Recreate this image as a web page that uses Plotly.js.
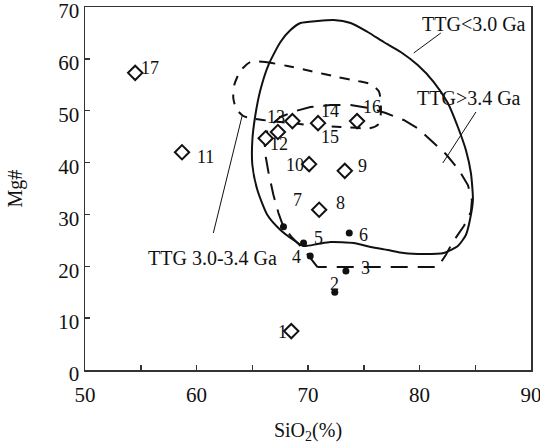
<!DOCTYPE html>
<html><head><meta charset="utf-8">
<script src="https://cdn.plot.ly/plotly-3.0.1.min.js"></script>
<style>html,body{margin:0;padding:0;background:#fff}#chart{width:540px;height:444px}</style>
</head><body><div id="chart"></div>
<script>
// ---- sample points ----
const diamondNo    = [1, 8, 9, 10, 11, 12, 13, 14, 15, 16, 17];
const diamondSiO2  = [68.5, 71.0, 73.3, 70.1, 58.7, 66.2, 67.3, 70.9, 68.6, 74.4, 54.5];
const diamondMg    = [7.5, 30.9, 38.4, 39.7, 42.0, 44.7, 45.9, 47.6, 48.0, 48.0, 57.3];

const dotNo   = [2, 3, 4, 5, 6, 7];
const dotSiO2 = [72.4, 73.4, 70.2, 69.6, 73.7, 67.8];
const dotMg   = [15.0, 19.1, 22.0, 24.5, 26.4, 27.6];

// ---- TTG field outlines ----
const ttgYoungSiO2 = [69.60,68.70,67.53,66.36,65.46,65.01,65.01,65.28,65.73,66.45,67.53,68.43,69.33,70.85,72.29,73.82,75.35,76.79,78.31,79.84,81.28,82.54,83.44,84.16,84.61,84.79,84.52,84.16,83.44,82.18,80.38,78.58,77.15,75.62,74.09,72.02,70.85,69.60];
const ttgYoungMg   = [23.91,25.07,27.00,29.89,34.71,39.53,44.35,49.17,53.99,58.81,63.25,65.56,66.91,67.30,67.49,66.91,65.18,63.25,61.32,58.81,55.53,51.48,46.86,42.42,37.99,32.78,28.92,26.03,23.91,22.56,22.37,22.56,23.14,23.72,24.49,24.68,24.30,23.91];

const ttgMidSiO2 = [64.83,66.18,68.16,70.22,72.65,74.45,75.62,76.34,76.52,76.52,76.34,75.62,72.92,70.22,67.53,65.28,64.20,63.57,63.30,63.39,63.93,64.83];
const ttgMidMg   = [59.39,59.39,58.62,57.66,56.50,55.73,55.15,53.80,52.06,49.17,47.44,46.66,46.86,47.24,47.82,48.40,48.98,50.33,52.45,54.96,57.66,59.39];

const ttgOldSiO2 = [70.85,70.22,69.51,68.61,67.80,67.35,66.90,66.45,66.18,66.09,66.45,67.53,68.88,70.22,72.02,73.82,75.44,76.97,78.58,79.93,81.01,82.36,83.53,84.34,84.70,84.61,83.98,82.99,82.36,81.64,70.85];
const ttgOldMg   = [19.86,21.60,23.53,25.45,27.57,30.27,33.74,38.18,41.46,44.35,46.86,48.79,49.94,50.71,51.10,51.10,50.52,49.56,48.21,46.47,44.35,41.65,38.57,35.67,32.78,30.47,27.77,24.68,22.18,19.86,19.86];

// ---- field labels and leader lines ----
const fieldNames  = ['TTG&lt;3.0 Ga', 'TTG&gt;3.4 Ga', 'TTG 3.0-3.4 Ga'];
const fieldLabelX = [84.88, 84.40, 61.45];
const fieldLabelY = [66.72, 52.40, 21.60];
const leaderX0 = [81.91, 85.06, 64.11];
const leaderY0 = [64.98, 49.75, 49.17];
const leaderX1 = [79.48, 82.09, 61.51];
const leaderY1 = [61.13, 39.92, 26.42];

// ---- label offsets (px: right, down) ----
const diamondLabelShift = {1:[-9,1],8:[21,-7],9:[18,-5],10:[-14,1],11:[23,5],12:[13,6],13:[-2,-15],14:[12,-12],15:[38,16],16:[15,-14],17:[15,-5]};
const dotLabelShift = {2:[0,-8],3:[20,-3],4:[-14,1],5:[15,-5],6:[14,2],7:[14,-27]};

const FONT = '"Liberation Serif","Times New Roman",serif';
const INK = '#111';

const traces = [
  {x: ttgYoungSiO2, y: ttgYoungMg, mode: 'lines', line: {color: INK, width: 2, shape: 'spline', smoothing: 0.6}, hoverinfo: 'skip', showlegend: false},
  {x: ttgMidSiO2, y: ttgMidMg, mode: 'lines', line: {color: INK, width: 2, dash: '10px,9px', shape: 'spline', smoothing: 0.6}, hoverinfo: 'skip', showlegend: false},
  {x: ttgOldSiO2, y: ttgOldMg, mode: 'lines', line: {color: INK, width: 2, dash: '17px,10px'}, hoverinfo: 'skip', showlegend: false},
  {x: diamondSiO2, y: diamondMg, mode: 'markers', marker: {symbol: 'diamond', size: 11, color: '#fff', line: {color: INK, width: 2}}, showlegend: false},
  {x: dotSiO2, y: dotMg, mode: 'markers', marker: {symbol: 'circle', size: 7, color: INK}, showlegend: false}
];

const annotations = [];
diamondNo.forEach((n, i) => {
  const s = diamondLabelShift[n] || [12, 0];
  annotations.push({x: diamondSiO2[i], y: diamondMg[i], text: String(n), showarrow: false,
    xshift: s[0], yshift: -s[1], font: {family: FONT, size: 18, color: INK}});
});
dotNo.forEach((n, i) => {
  const s = dotLabelShift[n] || [12, 0];
  annotations.push({x: dotSiO2[i], y: dotMg[i], text: String(n), showarrow: false,
    xshift: s[0], yshift: -s[1], font: {family: FONT, size: 18, color: INK}});
});
fieldNames.forEach((t, i) => {
  annotations.push({x: fieldLabelX[i], y: fieldLabelY[i], text: t, showarrow: false,
    font: {family: FONT, size: 20, color: INK}});
});

const shapes = leaderX0.map((x0, i) => ({type: 'line', xref: 'x', yref: 'y',
  x0: x0, y0: leaderY0[i], x1: leaderX1[i], y1: leaderY1[i], line: {color: INK, width: 1}}));

const layout = {
  width: 540, height: 444,
  margin: {l: 85, r: 9, t: 7, b: 74},
  paper_bgcolor: '#fff', plot_bgcolor: '#fff',
  font: {family: FONT, color: INK},
  xaxis: {range: [50, 90], tickvals: [50,60,70,80,90],
    ticks: 'inside', ticklen: 5, tickwidth: 1.5, tickcolor: '#333',
    minor: {tickvals: [55,65,75,85], ticks: 'inside', ticklen: 5, tickwidth: 1.5, tickcolor: '#333', showgrid: false},
    showline: true, linecolor: '#333', linewidth: 1.5, mirror: true,
    showgrid: false, zeroline: false, automargin: false, ticklabeloverflow: 'allow',
    ticklabelstandoff: 5,
    tickfont: {family: FONT, size: 21, color: INK},
    title: {text: 'SiO<sub>2</sub>(%)', font: {family: FONT, size: 20, color: INK}, standoff: 18}},
  yaxis: {range: [0, 70], tickvals: [0,10,20,30,40,50,60,70],
    ticks: 'inside', ticklen: 5, tickwidth: 1.5, tickcolor: '#333',
    showline: true, linecolor: '#333', linewidth: 1.5, mirror: true,
    showgrid: false, zeroline: false, automargin: false,
    ticklabeloverflow: 'allow', ticklabelshift: 4,
    tickfont: {family: FONT, size: 21, color: INK},
    title: {text: 'Mg#', font: {family: FONT, size: 20, color: INK}, standoff: 30}},
  annotations: annotations,
  shapes: shapes,
  showlegend: false
};

Plotly.newPlot('chart', traces, layout, {displayModeBar: false, staticPlot: true});
</script></body></html>
